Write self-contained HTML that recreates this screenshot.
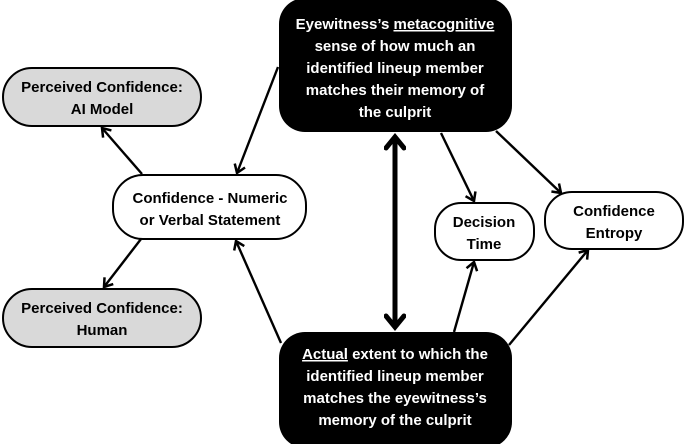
<!DOCTYPE html>
<html><head><meta charset="utf-8"><style>
html,body{margin:0;padding:0;background:#fff;}
svg{display:block;}
text{font-family:"Liberation Sans",sans-serif;font-weight:bold;font-size:15px;text-anchor:middle;}
</style></head><body>
<svg width="685" height="444" viewBox="0 0 685 444" xmlns="http://www.w3.org/2000/svg">
<defs>
<marker id="a" markerWidth="14" markerHeight="14" refX="10" refY="7" orient="auto" markerUnits="userSpaceOnUse">
<path d="M2,1.5 L10,7 L2,12.5" fill="none" stroke="#000" stroke-width="2.5"/>
</marker>
<marker id="b" markerWidth="22" markerHeight="22" refX="15" refY="11" orient="auto-start-reverse" markerUnits="userSpaceOnUse">
<path d="M4,2 L15,11 L4,20" fill="none" stroke="#000" stroke-width="5" stroke-linecap="round"/>
</marker>
</defs>
<rect x="279" y="-2" width="233" height="134" rx="26" fill="#000"/>
<rect x="279" y="332" width="233" height="116" rx="26" fill="#000"/>
<rect x="3" y="68" width="198" height="58" rx="29" fill="#d9d9d9" stroke="#000" stroke-width="2"/>
<rect x="3" y="289" width="198" height="58" rx="29" fill="#d9d9d9" stroke="#000" stroke-width="2"/>
<rect x="113" y="175" width="193" height="64" rx="30" fill="#fff" stroke="#000" stroke-width="2"/>
<rect x="435" y="203" width="99" height="57" rx="26" fill="#fff" stroke="#000" stroke-width="2"/>
<rect x="545" y="192" width="138" height="57" rx="27" fill="#fff" stroke="#000" stroke-width="2"/>
<g stroke="#000" stroke-width="2.4" fill="none">
<line x1="278" y1="67" x2="237" y2="173" marker-end="url(#a)"/>
<line x1="142" y1="174" x2="102" y2="128" marker-end="url(#a)"/>
<line x1="141" y1="239" x2="104" y2="287" marker-end="url(#a)"/>
<line x1="281" y1="343" x2="236" y2="241" marker-end="url(#a)"/>
<line x1="441" y1="133" x2="474" y2="201" marker-end="url(#a)"/>
<line x1="496" y1="131" x2="561" y2="193" marker-end="url(#a)"/>
<line x1="454" y1="332" x2="474" y2="262" marker-end="url(#a)"/>
<line x1="509" y1="345" x2="588" y2="250" marker-end="url(#a)"/>
<line x1="395" y1="137" x2="395" y2="327" stroke-width="5" marker-start="url(#b)" marker-end="url(#b)"/>
</g>
<g fill="#fff">
<text x="395" y="29">Eyewitness’s <tspan text-decoration="underline">metacognitive</tspan></text>
<text x="395" y="51">sense of how much an</text>
<text x="395" y="73">identified lineup member</text>
<text x="395" y="95">matches their memory of</text>
<text x="395" y="117">the culprit</text>
<text x="395" y="359"><tspan text-decoration="underline">Actual</tspan> extent to which the</text>
<text x="395" y="381">identified lineup member</text>
<text x="395" y="403">matches the eyewitness’s</text>
<text x="395" y="425">memory of the culprit</text>
</g>
<g fill="#000">
<text x="102" y="92">Perceived Confidence:</text>
<text x="102" y="114">AI Model</text>
<text x="102" y="313">Perceived Confidence:</text>
<text x="102" y="335">Human</text>
<text x="210" y="203">Confidence - Numeric</text>
<text x="210" y="225">or Verbal Statement</text>
<text x="484" y="227">Decision</text>
<text x="484" y="249">Time</text>
<text x="614" y="216">Confidence</text>
<text x="614" y="238">Entropy</text>
</g>
</svg>
</body></html>
